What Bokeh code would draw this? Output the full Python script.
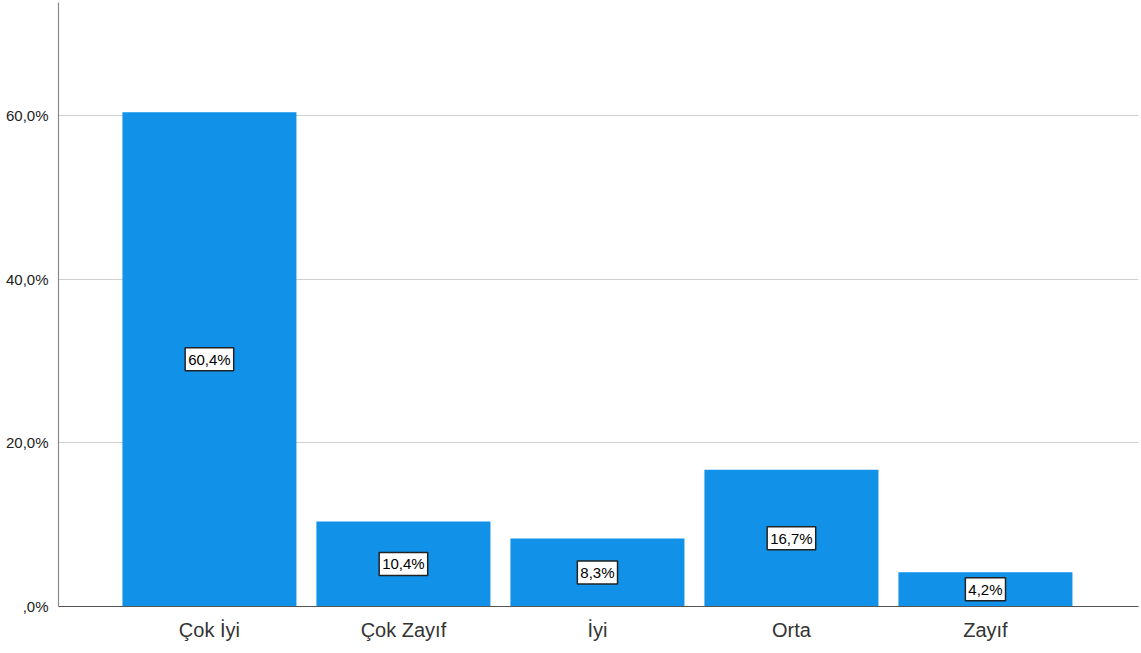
import numpy as np
from bokeh.plotting import figure
from bokeh.models import Range1d, FixedTicker, Label, ColumnDataSource
from bokeh.embed import file_html
from bokeh.resources import INLINE

categories = ["Çok İyi", "Çok Zayıf", "İyi", "Orta", "Zayıf"]
percents = [60.4, 10.4, 8.3, 16.7, 4.2]
bar_labels = ["60,4%", "10,4%", "8,3%", "16,7%", "4,2%"]
y_ticks = [0, 20, 40, 60]
y_tick_labels = [",0%", "20,0%", "40,0%", "60,0%"]

xs = list(range(len(categories)))
src = ColumnDataSource(dict(x=xs, top=percents, mid=[v / 2 for v in percents], lab=bar_labels))

p = figure(width=1141, height=650, output_backend="svg", toolbar_location=None,
           x_range=Range1d(-0.778, 4.789), y_range=Range1d(0, 73.8),
           min_border_left=58, min_border_right=3, min_border_top=2, min_border_bottom=44,
           background_fill_color="white", border_fill_color="white")
p.outline_line_color = None

p.vbar(x="x", top="top", bottom=0, width=0.897, source=src,
       fill_color="#1192E8", line_color=None)

# axes
p.xaxis.ticker = FixedTicker(ticks=xs)
p.xaxis.major_label_overrides = {i: c for i, c in enumerate(categories)}
p.xaxis.major_tick_line_color = None
p.xaxis.minor_tick_line_color = None
p.xaxis.axis_line_color = "#555555"
p.xaxis.axis_line_width = 1.2
p.xaxis.major_label_text_font = "Liberation Sans"
p.xaxis.major_label_text_font_size = "20px"
p.xaxis.major_label_text_color = "#333333"
p.xaxis.major_label_standoff = 6

p.yaxis.ticker = FixedTicker(ticks=y_ticks)
p.yaxis.major_label_overrides = dict(zip(y_ticks, y_tick_labels))
p.yaxis.major_tick_line_color = None
p.yaxis.minor_tick_line_color = None
p.yaxis.axis_line_color = "#8a8a8a"
p.yaxis.axis_line_width = 1.2
p.yaxis.major_label_text_font = "Liberation Sans"
p.yaxis.major_label_text_font_size = "15px"
p.yaxis.major_label_text_color = "#222222"
p.yaxis.major_label_standoff = 4

p.xgrid.grid_line_color = None
p.ygrid.ticker = FixedTicker(ticks=y_ticks[1:])
p.ygrid.grid_line_color = "#cfcfcf"
p.ygrid.grid_line_width = 1.2
p.ygrid.level = "underlay"

for x, m, lab in zip(xs, src.data["mid"], bar_labels):
    p.add_layout(Label(x=x, y=m, text=lab, text_align="center", text_baseline="middle",
                       text_font="Liberation Sans", text_font_size="15px", text_color="black",
                       background_fill_color="white", border_line_color="#222222",
                       border_line_width=1.5, padding=3))

open("out.html", "w").write(file_html(p, INLINE))
